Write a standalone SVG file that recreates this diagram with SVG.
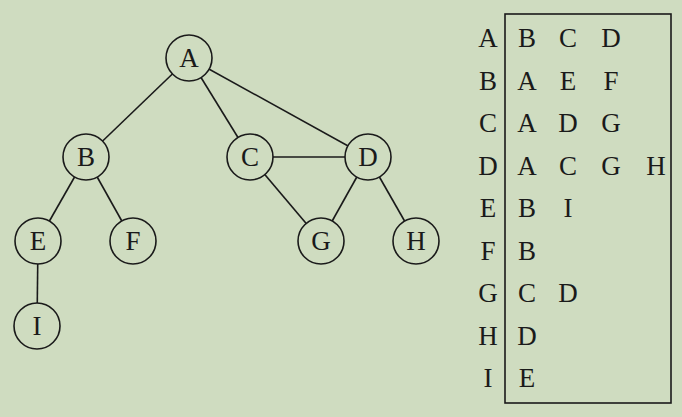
<svg xmlns="http://www.w3.org/2000/svg" width="682" height="417" viewBox="0 0 682 417">
<style>
.bg{fill:#cfdcc0}
.n circle{fill:#cfdcc0;stroke:#1a1a1a;stroke-width:1.6}
.n text,.t text{font-family:"Liberation Serif","Times New Roman",serif;font-size:27px;fill:#1a1a1a;text-anchor:middle}
.e line{stroke:#1a1a1a;stroke-width:1.6}
.box{fill:none;stroke:#1a1a1a;stroke-width:1.6}
</style>
<rect class="bg" x="0" y="0" width="682" height="417"/>
<g id="connectors" class="e">
<line x1="189" y1="58" x2="86" y2="157"/>
<line x1="189" y1="58" x2="250" y2="157"/>
<line x1="189" y1="58" x2="368" y2="157"/>
<line x1="86" y1="157" x2="38" y2="241"/>
<line x1="86" y1="157" x2="133" y2="241"/>
<line x1="250" y1="157" x2="368" y2="157"/>
<line x1="250" y1="157" x2="321" y2="241"/>
<line x1="368" y1="157" x2="321" y2="241"/>
<line x1="368" y1="157" x2="416" y2="241"/>
<line x1="38" y1="241" x2="37" y2="326"/>
</g>
<g id="A" class="n"><circle cx="189" cy="58" r="23"/><text x="189" y="67">A</text></g>
<g id="B" class="n"><circle cx="86" cy="157" r="23"/><text x="86" y="166">B</text></g>
<g id="C" class="n"><circle cx="250" cy="157" r="23"/><text x="250" y="166">C</text></g>
<g id="D" class="n"><circle cx="368" cy="157" r="23"/><text x="368" y="166">D</text></g>
<g id="E" class="n"><circle cx="38" cy="241" r="23"/><text x="38" y="250">E</text></g>
<g id="F" class="n"><circle cx="133" cy="241" r="23"/><text x="133" y="250">F</text></g>
<g id="G" class="n"><circle cx="321" cy="241" r="23"/><text x="321" y="250">G</text></g>
<g id="H" class="n"><circle cx="416" cy="241" r="23"/><text x="416" y="250">H</text></g>
<g id="I" class="n"><circle cx="37" cy="326" r="23"/><text x="37" y="335">I</text></g>
<g id="table" class="t">
<rect class="box" x="505" y="14" width="166" height="389"/>
<text x="488" y="47">A</text><text x="527" y="47">B</text><text x="568" y="47">C</text><text x="611" y="47">D</text>
<text x="488" y="89.5">B</text><text x="527" y="89.5">A</text><text x="568" y="89.5">E</text><text x="611" y="89.5">F</text>
<text x="488" y="132">C</text><text x="527" y="132">A</text><text x="568" y="132">D</text><text x="611" y="132">G</text>
<text x="488" y="174.5">D</text><text x="527" y="174.5">A</text><text x="568" y="174.5">C</text><text x="611" y="174.5">G</text><text x="656" y="174.5">H</text>
<text x="488" y="217">E</text><text x="527" y="217">B</text><text x="568" y="217">I</text>
<text x="488" y="259.5">F</text><text x="527" y="259.5">B</text>
<text x="488" y="302">G</text><text x="527" y="302">C</text><text x="568" y="302">D</text>
<text x="488" y="344.5">H</text><text x="527" y="344.5">D</text>
<text x="488" y="387">I</text><text x="527" y="387">E</text>
</g>
</svg>
